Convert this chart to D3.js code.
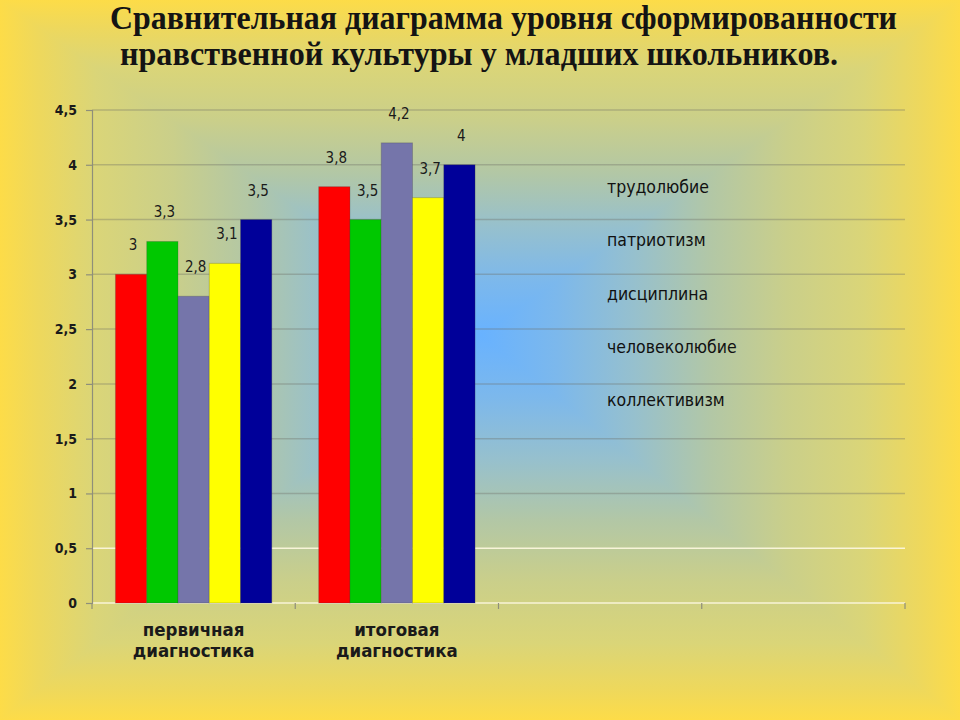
<!DOCTYPE html>
<html><head><meta charset="utf-8">
<script src="https://cdn.jsdelivr.net/npm/d3@7/dist/d3.min.js"></script>
<style>body{margin:0;background:#fddc48}svg{display:block}</style>
</head><body>
<script>
// ---- data ----
const titleLines = ["Сравнительная диаграмма уровня сформированности", "нравственной культуры у младших школьников."];
const categories = ["первичная диагностика", "итоговая диагностика", "", ""];
const seriesNames = ["трудолюбие", "патриотизм", "дисциплина", "человеколюбие", "коллективизм"];
const trudolyubie = [3, 3.8];
const patriotizm = [3.3, 3.5];
const distsiplina = [2.8, 4.2];
const chelovekolyubie = [3.1, 3.7];
const kollektivizm = [3.5, 4];
const seriesValues = [trudolyubie, patriotizm, distsiplina, chelovekolyubie, kollektivizm];
const seriesColors = ["#ff0000", "#00c800", "#7575aa", "#ffff00", "#000099"];
const yTicks = [0, 0.5, 1, 1.5, 2, 2.5, 3, 3.5, 4, 4.5];

// ---- layout ----
const W = 960, H = 720;
const plot = {left: 92, right: 905, top: 110, bottom: 603};
const fmt = v => String(v).replace(".", ",");
const sans = "'DejaVu Sans Condensed', 'DejaVu Sans', sans-serif";

const svg = d3.select("body").append("svg").attr("width", W).attr("height", H);
const defs = svg.append("defs");

// ---- background: rectangular path gradient (yellow edges -> blue center) ----
const cx = 480, cy = 335;
const bgStops = [
  [0, "#fddc48"], [0.08, "#eed85c"], [0.2, "#dad578"], [0.36, "#cacf8a"],
  [0.52, "#b2c7a6"], [0.68, "#96c0ce"], [0.84, "#7cb8ec"], [1, "#68b2ff"]
];
function grad(id, x1, y1, x2, y2) {
  const g = defs.append("linearGradient").attr("id", id).attr("gradientUnits", "userSpaceOnUse")
    .attr("x1", x1).attr("y1", y1).attr("x2", x2).attr("y2", y2);
  bgStops.forEach(s => g.append("stop").attr("offset", s[0]).attr("stop-color", s[1]));
}
grad("gTop", cx, 0, cx, cy);
grad("gBot", cx, H, cx, cy);
grad("gLeft", 0, cy, cx, cy);
grad("gRight", W, cy, cx, cy);
const rg = defs.append("radialGradient").attr("id", "gBase").attr("gradientUnits", "userSpaceOnUse")
  .attr("cx", cx).attr("cy", cy).attr("r", 520);
bgStops.slice().reverse().forEach(s => rg.append("stop").attr("offset", 1 - s[0]).attr("stop-color", s[1]));
const bg = svg.append("g");
bg.append("rect").attr("width", W).attr("height", H).attr("fill", "url(#gBase)");
const tri = [
  [[0, 0], [W, 0], [cx, cy], "gTop"],
  [[0, H], [W, H], [cx, cy], "gBot"],
  [[0, 0], [0, H], [cx, cy], "gLeft"],
  [[W, 0], [W, H], [cx, cy], "gRight"]
];
tri.forEach(t => bg.append("path")
  .attr("d", `M${t[0]}L${t[1]}L${t[2]}Z`)
  .attr("fill", `url(#${t[3]})`).attr("stroke", `url(#${t[3]})`).attr("stroke-width", 1));

// ---- title ----
const titleX = [[110, 787], [120, 718]];
const titleY = [29, 65];
svg.append("g").selectAll("text").data(titleLines).join("text")
  .attr("x", (d, i) => titleX[i][0]).attr("y", (d, i) => titleY[i])
  .attr("textLength", (d, i) => titleX[i][1]).attr("lengthAdjust", "spacingAndGlyphs")
  .attr("font-family", "'Liberation Serif', 'Times New Roman', serif")
  .attr("font-weight", "bold").attr("font-size", 34).attr("fill", "#141414")
  .text(d => d);

// ---- scales ----
const y = d3.scaleLinear().domain([0, 4.5]).range([plot.bottom, plot.top]);
const x = d3.scaleBand().domain(d3.range(categories.length)).range([plot.left, plot.right]).padding(0);
const xs = d3.scaleBand().domain(d3.range(seriesNames.length)).range([0, x.bandwidth()])
  .paddingInner(0).paddingOuter(0.75);

// ---- grid ----
svg.append("g").selectAll("line").data(yTicks).join("line")
  .attr("x1", plot.left).attr("x2", plot.right)
  .attr("y1", d => y(d)).attr("y2", d => y(d))
  .attr("stroke", d => d <= 0.5 ? "#fbf6dc" : "#6e6e64")
  .attr("stroke-opacity", d => d <= 0.5 ? 0.95 : 0.35)
  .attr("stroke-width", 1.5);

// ---- y axis ----
const yAxis = svg.append("g").attr("transform", `translate(${plot.left},0)`)
  .call(d3.axisLeft(y).tickValues(yTicks).tickSize(6).tickPadding(9).tickFormat(fmt));
yAxis.select(".domain").attr("stroke", "#8f8f7a").attr("stroke-width", 1.2);
yAxis.selectAll(".tick line").attr("stroke", "#8f8f7a").attr("stroke-width", 1.2);
yAxis.selectAll(".tick text").attr("font-family", sans).attr("font-weight", "bold")
  .attr("font-size", 14).attr("fill", "#1a1a1a");

// ---- x axis ticks ----
const edges = d3.range(categories.length + 1).map(i => i < categories.length ? x(i) : plot.right);
svg.append("g").selectAll("line").data(edges).join("line")
  .attr("x1", d => d).attr("x2", d => d).attr("y1", plot.bottom).attr("y2", plot.bottom + 6)
  .attr("stroke", "#8f8f7a").attr("stroke-width", 1.2);

// ---- bars ----
const barData = [];
seriesValues.forEach((vals, s) => vals.forEach((v, c) => barData.push({s, c, v})));
svg.append("g").selectAll("rect").data(barData).join("rect")
  .attr("x", d => x(d.c) + xs(d.s)).attr("width", xs.bandwidth())
  .attr("y", d => y(d.v)).attr("height", d => y(0) - y(d.v))
  .attr("fill", d => seriesColors[d.s])
  .attr("stroke", "rgba(60,60,60,0.25)").attr("stroke-width", 1);

// ---- data labels ----
svg.append("g").selectAll("text").data(barData).join("text")
  .attr("x", d => x(d.c) + xs(d.s) + xs.bandwidth() / 2 + 2)
  .attr("y", d => y(d.v) - 24)
  .attr("text-anchor", "middle")
  .attr("font-family", sans).attr("font-size", 15).attr("fill", "#1a1a1a")
  .text(d => fmt(d.v));

// ---- category labels ----
const catG = svg.append("g");
categories.forEach((c, i) => {
  c.split(" ").filter(Boolean).forEach((w, j) => {
    catG.append("text")
      .attr("x", x(i) + x.bandwidth() / 2).attr("y", 636 + j * 21)
      .attr("text-anchor", "middle")
      .attr("font-family", sans).attr("font-weight", "bold").attr("font-size", 18.5)
      .attr("fill", "#1a1a1a").text(w);
  });
});

// ---- legend (text only) ----
svg.append("g").selectAll("text").data(seriesNames).join("text")
  .attr("x", 607).attr("y", (d, i) => 193 + i * 53.25)
  .attr("font-family", sans).attr("font-size", 17.5).attr("fill", "#111")
  .text(d => d);
</script>
</body></html>
